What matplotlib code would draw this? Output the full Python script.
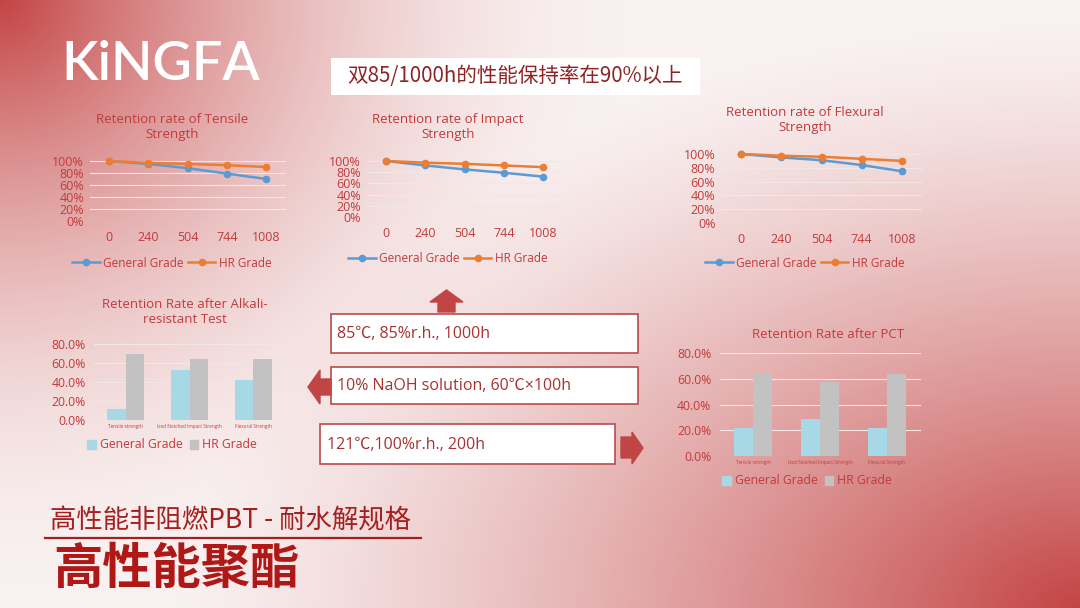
import numpy as np
import matplotlib
matplotlib.use("Agg")
import matplotlib.pyplot as plt
from matplotlib.patches import Rectangle, Polygon, Patch
from matplotlib.lines import Line2D
from matplotlib.ticker import PercentFormatter

W, H = 1080, 608

# --- data ---
hours = ["0", "240", "504", "744", "1008"]
tensile_general = [1.00, 0.95, 0.88, 0.79, 0.70]
tensile_hr = [1.00, 0.97, 0.95, 0.93, 0.90]
impact_general = [1.00, 0.92, 0.85, 0.79, 0.72]
impact_hr = [1.00, 0.97, 0.95, 0.92, 0.89]
flexural_general = [1.00, 0.95, 0.91, 0.84, 0.75]
flexural_hr = [1.00, 0.975, 0.96, 0.93, 0.90]

props = ["Tensile strength", "Izod Notched Impact Strength", "Flexural Strength"]
alkali_general = [0.116, 0.529, 0.416]
alkali_hr = [0.698, 0.645, 0.638]
pct_general = [0.216, 0.288, 0.221]
pct_hr = [0.636, 0.574, 0.639]

series_names = ["General Grade", "HR Grade"]

BLUE = "#5b9bd5"
ORANGE = "#ed7d31"
LBLUE = "#a6d8e6"
GREY = "#c2c2c2"
TXT = "#c23a3a"
GRID = "#f3e6e6"

plt.rcParams["font.family"] = ["Open Sans", "Noto Sans CJK SC", "DejaVu Sans"]

fig = plt.figure(figsize=(W / 100, H / 100), dpi=100)

# background gradient
bg = fig.add_axes([0, 0, 1, 1])
yy, xx = np.mgrid[0:H, 0:W].astype(float)
d1 = np.sqrt((xx / 620) ** 2 + (yy / 580) ** 2)
a1 = np.clip(1 - d1, 0, 1) ** 1.8
d2 = np.sqrt(((W - xx) / 900) ** 2 + ((H - yy) / 580) ** 2)
a2 = np.clip(1 - d2, 0, 1) ** 1.3
a = 1 - (1 - a1) * (1 - a2)
base = np.array([249, 240, 240]) / 255
red = np.array([196, 68, 68]) / 255
img = base * (1 - a[..., None]) + red * a[..., None]
bg.imshow(img, extent=(0, W, H, 0), aspect="auto")
bg.set_xlim(0, W)
bg.set_ylim(H, 0)
bg.axis("off")

# logo
bg.text(61, 65, "KiNGFA", color="white", fontsize=39, fontweight="semibold",
        va="center", ha="left", family=["Lato", "DejaVu Sans"])

# headline box
bg.add_patch(Rectangle((331, 58), 369, 37, facecolor="white", edgecolor="none"))
bg.text(347, 76, "双85/1000h的性能保持率在90%以上", color="#8f2323", fontsize=14.8,
        va="center", ha="left", family=["Noto Sans CJK SC", "DejaVu Sans"])

# condition boxes
box_col = "#b94c4c"
arrow_col = "#c04646"
boxes = [
    (331, 314, 307, 39, "85℃, 85%r.h., 1000h", 337),
    (331, 367, 307, 37, "10% NaOH solution, 60℃×100h", 337),
    (320, 424, 295, 40, "121℃,100%r.h., 200h", 327),
]
for bx, by, bw, bh, label, tx in boxes:
    bg.add_patch(Rectangle((bx, by), bw, bh, facecolor="white", edgecolor=box_col, lw=1.2))
    bg.text(tx, by + bh / 2 + 1, label, color="#a83232", fontsize=11.5, va="center", ha="left",
            family=["Open Sans", "Noto Sans CJK SC", "DejaVu Sans"])

# arrows
bg.add_patch(Polygon([(438, 312), (438, 302), (430, 302), (446.5, 290), (463, 302), (455, 302), (455, 312)],
                     closed=True, color=arrow_col))
bg.add_patch(Polygon([(331, 379), (320, 379), (320, 370), (308, 387), (320, 404), (320, 395), (331, 395)],
                     closed=True, color=arrow_col))
bg.add_patch(Polygon([(621, 437), (632, 437), (632, 432), (643, 448), (632, 464), (632, 458), (621, 458)],
                     closed=True, color=arrow_col))

# bottom titles
bg.text(50, 521, "高性能非阻燃PBT - 耐水解规格", color="#a41f1f", fontsize=19,
        va="center", ha="left", family=["Noto Sans CJK SC", "DejaVu Sans"])
bg.plot([45, 421], [538, 538], color="#a41f1f", lw=1.6)
bg.text(53, 569, "高性能聚酯", color="#b01818", fontsize=35.5, fontweight="bold",
        va="center", ha="left", family=["Noto Sans CJK SC", "DejaVu Sans"])


def px_axes(x0, x1, ytop, ybot):
    ax = fig.add_axes([x0 / W, 1 - ybot / H, (x1 - x0) / W, (ybot - ytop) / H])
    ax.patch.set_alpha(0)
    for s in ax.spines.values():
        s.set_visible(False)
    ax.tick_params(length=0, colors=TXT)
    return ax


def line_chart(box, general, hr, title, tpos, lpos):
    ax = px_axes(*box)
    x = np.arange(len(hours))
    ax.plot(x, general, color=BLUE, lw=1.8, marker="o", ms=4.5, clip_on=False, zorder=3)
    ax.plot(x, hr, color=ORANGE, lw=1.8, marker="o", ms=4.5, clip_on=False, zorder=4)
    ax.set_xlim(-0.5, len(hours) - 0.5)
    ax.set_ylim(0, 1)
    ax.set_yticks(np.arange(0, 1.01, 0.2))
    ax.yaxis.set_major_formatter(PercentFormatter(1.0, decimals=0))
    ax.set_xticks(x, hours)
    ax.grid(axis="y", color=GRID, lw=0.8)
    ax.set_axisbelow(True)
    ax.tick_params(axis="y", labelsize=9, pad=4)
    ax.tick_params(axis="x", labelsize=9, pad=7)
    fig.text(tpos[0] / W, 1 - tpos[1] / H, title, ha="center", va="center",
             fontsize=9.5, color=TXT, linespacing=1.25)
    handles = [Line2D([], [], color=BLUE, lw=1.8, marker="o", ms=4.5),
               Line2D([], [], color=ORANGE, lw=1.8, marker="o", ms=4.5)]
    ax.legend(handles, series_names, loc="center", bbox_to_anchor=(lpos[0] / W, 1 - lpos[1] / H),
              bbox_transform=fig.transFigure, ncol=2, frameon=False, fontsize=8.5,
              handlelength=2.3, columnspacing=0.4, handletextpad=0.3, labelcolor=TXT)


def bar_chart(box, general, hr, title, tpos, lpos, cat_pad):
    ax = px_axes(*box)
    x = np.arange(len(props))
    w = 0.29
    ax.bar(x - w / 2, general, w, color=LBLUE)
    ax.bar(x + w / 2, hr, w, color=GREY)
    ax.set_xlim(-0.5, len(props) - 0.5)
    ax.set_ylim(0, 0.8)
    ax.set_yticks(np.arange(0, 0.81, 0.2))
    ax.yaxis.set_major_formatter(PercentFormatter(1.0, decimals=1))
    ax.set_xticks(x, props)
    ax.grid(axis="y", color=GRID, lw=0.8)
    ax.set_axisbelow(True)
    ax.tick_params(axis="y", labelsize=8.8, pad=6)
    ax.tick_params(axis="x", labelsize=3.3, pad=cat_pad)
    fig.text(tpos[0] / W, 1 - tpos[1] / H, title, ha="center", va="center",
             fontsize=9.5, color=TXT, linespacing=1.25)
    handles = [Patch(color=LBLUE), Patch(color=GREY)]
    ax.legend(handles, series_names, loc="center", bbox_to_anchor=(lpos[0] / W, 1 - lpos[1] / H),
              bbox_transform=fig.transFigure, ncol=2, frameon=False, fontsize=8.8,
              handlelength=0.7, handleheight=0.7, columnspacing=0.6, handletextpad=0.3,
              labelcolor=TXT)


line_chart((89.5, 286, 161, 221), tensile_general, tensile_hr,
           "Retention rate of Tensile\nStrength", (172, 127), (172, 263))
line_chart((366.5, 563, 161, 217), impact_general, impact_hr,
           "Retention rate of Impact\nStrength", (448, 127), (448, 259))
line_chart((721, 922, 154, 223), flexural_general, flexural_hr,
           "Retention rate of Flexural\nStrength", (805, 120), (805, 263))

bar_chart((94, 285, 344, 420), alkali_general, alkali_hr,
          "Retention Rate after Alkali-\nresistant Test", (185, 312), (172, 445), 3)
bar_chart((719.5, 920.5, 353, 456), pct_general, pct_hr,
          "Retention Rate after PCT", (828, 334), (807, 481), 3)

fig.savefig("out.png", dpi=100)
